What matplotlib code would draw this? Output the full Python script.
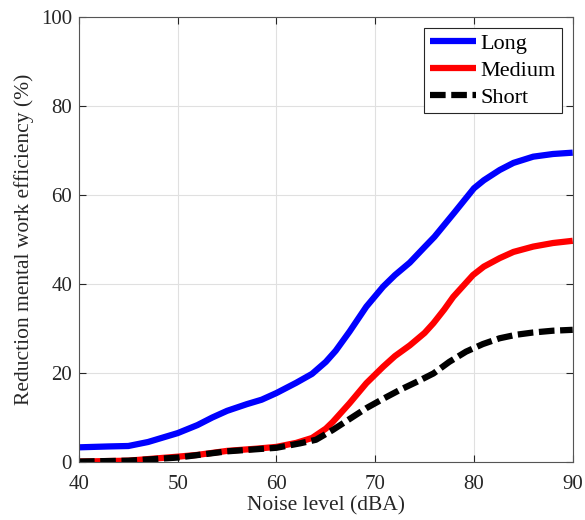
import matplotlib
matplotlib.use("Agg")
import matplotlib.pyplot as plt

plt.rcParams['font.family'] = ['Liberation Serif', 'DejaVu Serif']

x_long = [40, 43, 45, 47, 50, 52, 53.5, 55, 57, 58.5, 60, 62, 63.6, 65, 66, 67.4, 69.1, 70.8, 72, 73.5,
          75, 76, 78, 80, 81, 82.6, 84, 86, 88, 90]
y_long = [3.3, 3.5, 3.6, 4.5, 6.5, 8.3, 10.0, 11.5, 13.0, 14.0, 15.5, 17.8, 19.8, 22.5, 25.0, 29.3, 34.9, 39.4, 42.0, 44.8,
          48.3, 50.6, 56.0, 61.5, 63.3, 65.6, 67.2, 68.6, 69.2, 69.5]

x_med = [40, 45, 50, 52, 55, 58, 60, 62, 63.6, 65, 65.7, 67.4, 69.1, 70.8, 72, 73.5, 75, 75.9, 77, 77.9,
         79.9, 81, 82.6, 84, 86, 88, 90]
y_med = [0.1, 0.3, 1.2, 1.6, 2.5, 3.0, 3.4, 4.3, 5.4, 7.5, 9.0, 13.2, 17.7, 21.4, 23.8, 26.2, 29.0, 31.2, 34.3, 37.1,
         42.0, 43.9, 45.8, 47.2, 48.4, 49.2, 49.7]

x_short = [40, 45, 50, 55, 60, 62.4, 64, 65.7, 67.5, 69.1, 70.8, 72.5, 74.2, 75.9, 77.5, 79.2, 80.9, 82.6,
           84.3, 86, 88, 90]
y_short = [0.1, 0.3, 1.0, 2.4, 3.2, 4.2, 5.0, 7.2, 9.8, 12.1, 14.2, 16.2, 18.0, 19.9, 22.5, 24.8, 26.5, 27.8,
           28.6, 29.1, 29.5, 29.7]

x_ticks = [40, 50, 60, 70, 80, 90]
y_ticks = [0, 20, 40, 60, 80, 100]

fig = plt.figure(figsize=(5.85, 5.2), dpi=100)
ax = fig.add_axes([0.135, 0.1115, 0.844, 0.856])

ax.plot(x_long, y_long, color='#0000ff', lw=4.5, label='Long', solid_capstyle='butt', solid_joinstyle='round')
ax.plot(x_med, y_med, color='#ff0000', lw=4.5, label='Medium', solid_capstyle='butt', solid_joinstyle='round')
ax.plot(x_short, y_short, color='black', lw=4.5, ls=(0, (2.5, 0.9)), label='Short', dash_joinstyle='round')

ax.set_xlim(40, 90)
ax.set_ylim(0, 100)
ax.set_xticks(x_ticks)
ax.set_yticks(y_ticks)
ax.grid(True, color='#e0e0e0', lw=0.8)
ax.tick_params(direction='in', top=True, right=True, labelsize=15, colors='#262626', length=5)
ax.tick_params(axis='x', pad=9)
ax.tick_params(axis='y', pad=5)
for s in ax.spines.values():
    s.set_color('#555555')
    s.set_linewidth(0.8)
ax.set_xlabel('Noise level (dBA)', fontsize=15.5, color='#262626', labelpad=2)
ax.set_ylabel('Reduction mental work efficiency (%)', fontsize=15.5, color='#262626', labelpad=5)

leg = ax.legend(loc='upper right', fontsize=16, fancybox=False, framealpha=1,
                edgecolor='#262626', handlelength=2.1, handletextpad=0.2,
                borderpad=0.25, labelspacing=0.28, borderaxespad=0.5)
leg.get_frame().set_linewidth(0.8)

fig.savefig('out.png', dpi=100)
